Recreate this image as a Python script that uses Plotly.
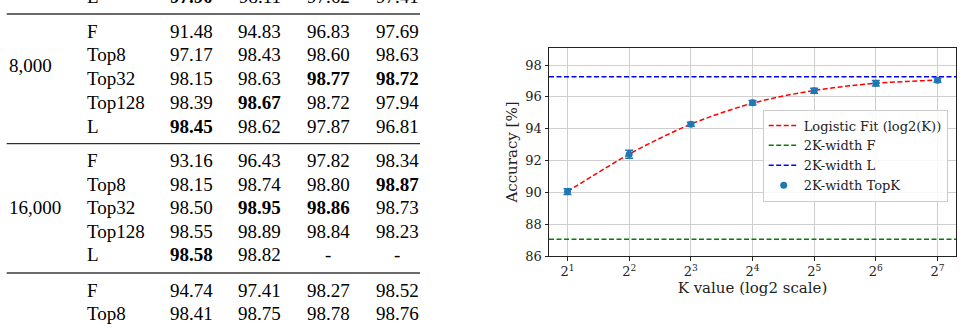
import plotly.graph_objects as go

# ---------------- chart data ----------------
k_log2 = [1, 2, 3, 4, 5, 6, 7]
k_values = [2 ** n for n in k_log2]
topk_acc = [90.05, 92.40, 94.28, 95.63, 96.38, 96.86, 97.05]
topk_err = [0.18, 0.25, 0.12, 0.14, 0.16, 0.17, 0.13]
fit_log2k = [1, 1.5, 2, 2.5, 3, 3.5, 4, 4.5, 5, 5.5, 6, 6.5, 7]
fit_acc = [90.05, 91.25, 92.40, 93.40, 94.28, 95.00, 95.60, 96.05, 96.40, 96.66, 96.85, 96.97, 97.05]
f_width_acc = 87.05
l_width_acc = 97.26
tick_labels = ["2<sup>%d</sup>" % n for n in k_log2]

# ---------------- table data ----------------
methods = ["F", "Top8", "Top32", "Top128", "L"]
prev_L = ["97.90", "98.11", "97.62", "97.41"]
prev_L_bold = [True, False, False, False]
acc_8000 = [["91.48", "94.83", "96.83", "97.69"],
            ["97.17", "98.43", "98.60", "98.63"],
            ["98.15", "98.63", "98.77", "98.72"],
            ["98.39", "98.67", "98.72", "97.94"],
            ["98.45", "98.62", "97.87", "96.81"]]
bold_8000 = [(2, 2), (2, 3), (3, 1), (4, 0)]
acc_16000 = [["93.16", "96.43", "97.82", "98.34"],
             ["98.15", "98.74", "98.80", "98.87"],
             ["98.50", "98.95", "98.86", "98.73"],
             ["98.55", "98.89", "98.84", "98.23"],
             ["98.58", "98.82", "-", "-"]]
bold_16000 = [(1, 3), (2, 1), (2, 2), (4, 0)]
next_methods = ["F", "Top8"]
acc_next = [["94.74", "97.41", "98.27", "98.52"],
            ["98.41", "98.75", "98.78", "98.76"]]

W, H = 962, 325
BLUE = "#1f77b4"
SERIF = "DejaVu Serif"
TIMES = "Liberation Serif"


def px(x):
    return x / W


def py(y):
    return 1 - y / H


fig = go.Figure()

fig.add_trace(go.Scatter(
    x=[2 ** v for v in fit_log2k], y=fit_acc, mode="lines",
    line=dict(color="red", width=1.5, dash="5px,2.5px", shape="spline"),
    name="Logistic Fit (log2(K))"))
x_span = [2 ** 0.7, 2 ** 7.3]
fig.add_trace(go.Scatter(
    x=x_span, y=[f_width_acc, f_width_acc], mode="lines",
    line=dict(color="green", width=1.5, dash="5px,2.5px"), name="2K-width F"))
fig.add_trace(go.Scatter(
    x=x_span, y=[l_width_acc, l_width_acc], mode="lines",
    line=dict(color="blue", width=1.5, dash="5px,2.5px"), name="2K-width L"))
fig.add_trace(go.Scatter(
    x=k_values, y=topk_acc, mode="markers",
    marker=dict(color=BLUE, size=7),
    error_y=dict(type="data", array=topk_err, color=BLUE, thickness=1.5, width=4),
    name="2K-width TopK"))

# ---------------- table as text ----------------
annotations = []
col_x = [191, 259.7, 328.3, 397]
method_x = 85
group_x = 6.7
fsize = 19


def add_text(txt, x, y, anchor="center", bold=False):
    annotations.append(dict(
        text=("<b>%s</b>" % txt) if bold else txt,
        x=px(x), y=py(y), xref="paper", yref="paper",
        xanchor=anchor, yanchor="middle", showarrow=False,
        font=dict(family=TIMES, size=fsize, color="black")))


def add_row(method, vals, bolds, y):
    add_text(method, method_x, y, anchor="left")
    for j, v in enumerate(vals):
        add_text(v, col_x[j], y, bold=bolds[j])


add_row("L", prev_L, prev_L_bold, -3.7)

rows_8000_y = [31, 54.8, 78.6, 102.4, 126.2]
for i, m in enumerate(methods):
    add_row(m, acc_8000[i], [(i, j) in bold_8000 for j in range(4)], rows_8000_y[i])
add_text("8,000", group_x, 66, anchor="left")

rows_16000_y = [160.7, 184.2, 207.7, 231.2, 254.7]
for i, m in enumerate(methods):
    add_row(m, acc_16000[i], [(i, j) in bold_16000 for j in range(4)], rows_16000_y[i])
add_text("16,000", group_x, 207.2, anchor="left")

rows_next_y = [290, 313.7]
for i, m in enumerate(next_methods):
    add_row(m, acc_next[i], [False] * 4, rows_next_y[i])

shapes = []
for yy, col, w in [(14, "#6a6a6a", 2), (143.7, "black", 1), (273, "#6a6a6a", 2)]:
    shapes.append(dict(type="line", xref="paper", yref="paper",
                       x0=px(6.7), x1=px(420), y0=py(yy), y1=py(yy),
                       line=dict(color=col, width=w)))

axis_common = dict(
    showline=True, mirror=True, linecolor="#222", linewidth=1,
    ticks="outside", ticklen=3.5, tickcolor="#222", tickwidth=1,
    showgrid=True, gridcolor="#cfcfcf", gridwidth=1, zeroline=False,
    automargin=False,
    tickfont=dict(family=SERIF, size=13, color="#222"),
)

fig.update_layout(
    width=W, height=H, autosize=False,
    margin=dict(l=0, r=0, t=0, b=0, pad=0),
    paper_bgcolor="white", plot_bgcolor="white",
    showlegend=True,
    legend=dict(x=px(762.7), y=py(109.5), xanchor="left", yanchor="top",
                bgcolor="rgba(255,255,255,0.85)", bordercolor="#cccccc", borderwidth=1,
                font=dict(family=SERIF, size=13, color="#222"),
                tracegroupgap=0, itemwidth=30),
    xaxis=dict(type="log", domain=[549 / W, 956 / W],
               range=[0.7 * 0.30103, 7.3 * 0.30103],
               tickvals=k_values, ticktext=tick_labels,
               title=dict(text="K value (log2 scale)", standoff=4,
                          font=dict(family=SERIF, size=15, color="#222")),
               **axis_common),
    yaxis=dict(domain=[(H - 256) / H, (H - 48) / H],
               range=[86, 99.07], tickvals=[86, 88, 90, 92, 94, 96, 98],
               title=dict(text="Accuracy [%]", standoff=4,
                          font=dict(family=SERIF, size=15, color="#222")),
               **axis_common),
    annotations=annotations,
    shapes=shapes,
)

fig.write_html("out.html")
